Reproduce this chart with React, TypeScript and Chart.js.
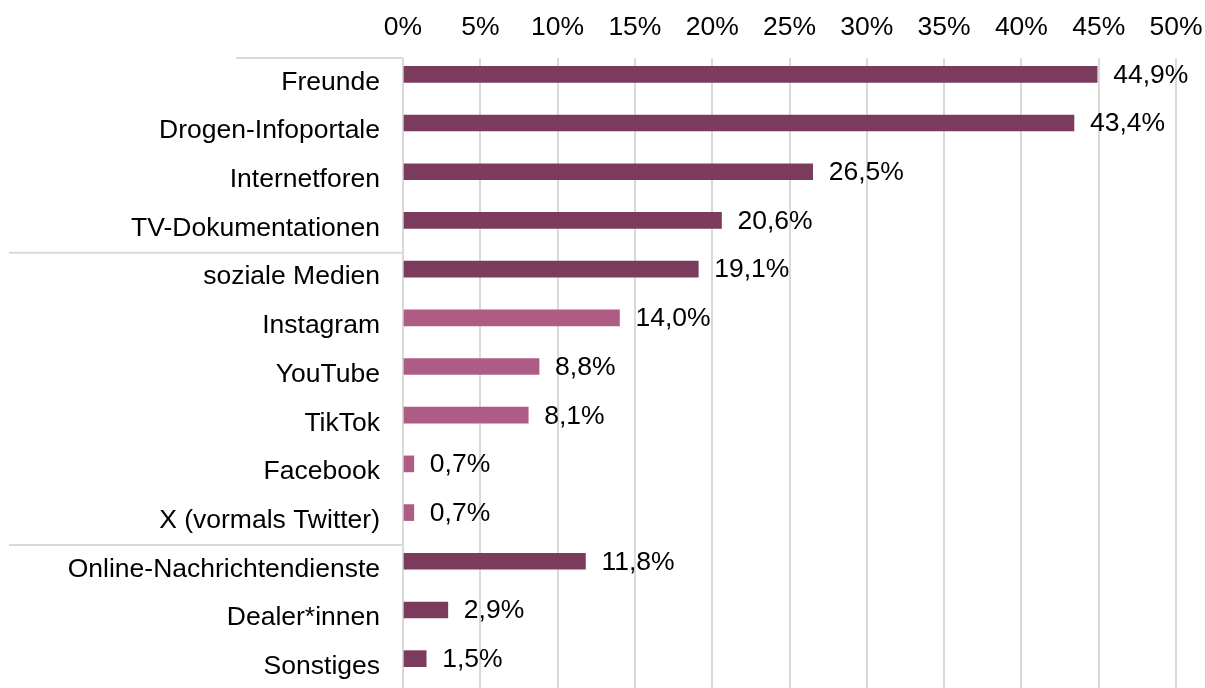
import React, { useEffect, useRef } from "react";
import { Chart, registerables } from "chart.js";

Chart.register(...registerables);

const categories = [
  "Freunde",
  "Drogen-Infoportale",
  "Internetforen",
  "TV-Dokumentationen",
  "soziale Medien",
  "Instagram",
  "YouTube",
  "TikTok",
  "Facebook",
  "X (vormals Twitter)",
  "Online-Nachrichtendienste",
  "Dealer*innen",
  "Sonstiges",
];

const shares = [44.9, 43.4, 26.5, 20.6, 19.1, 14.0, 8.8, 8.1, 0.7, 0.7, 11.8, 2.9, 1.5];

// true = platform (sub-item of "soziale Medien")
const isPlatform = [false, false, false, false, false, true, true, true, true, true, false, false, false];

const xTicks = [0, 5, 10, 15, 20, 25, 30, 35, 40, 45, 50];

// category indices where a new group begins (separator line above)
const groupStarts = [0, 4, 10];

const DARK = "#7a3b5c";
const PINK = "#ae5c85";
const GRID = "#d9d9d9";
const FONT = "'Liberation Sans', Arial, sans-serif";
const FONT_SIZE = 26.5;

const fmt = (v: number) => v.toFixed(1).replace(".", ",") + "%";

const valueLabels = {
  id: "valueLabels",
  afterDatasetsDraw(chart: any) {
    const ctx = chart.ctx;
    const meta = chart.getDatasetMeta(0);
    ctx.save();
    ctx.font = `${FONT_SIZE}px ${FONT}`;
    ctx.fillStyle = "#000";
    ctx.textAlign = "left";
    ctx.textBaseline = "middle";
    meta.data.forEach((bar: any, i: number) => {
      const v = shares[i];
      if (v == null) return;
      ctx.fillText(fmt(v), bar.x + 16, bar.y + 1);
    });
    ctx.restore();
  },
};

const groupLines = {
  id: "groupLines",
  afterDraw(chart: any) {
    const ctx = chart.ctx;
    const y = chart.scales.y;
    const area = chart.chartArea;
    ctx.save();
    ctx.strokeStyle = GRID;
    ctx.lineWidth = 2;
    groupStarts.forEach((idx) => {
      let py: number;
      if (idx === 0) {
        py = area.top;
      } else {
        py = (y.getPixelForValue(idx - 1) + y.getPixelForValue(idx)) / 2;
      }
      const startX = idx === 0 ? 236 : 9;
      ctx.beginPath();
      ctx.moveTo(startX, py);
      ctx.lineTo(area.left, py);
      ctx.stroke();
    });
    ctx.restore();
  },
};

export default function App() {
  const ref = useRef<HTMLCanvasElement | null>(null);

  useEffect(() => {
    if (!ref.current) return;
    const chart = new Chart(ref.current, {
      type: "bar",
      data: {
        labels: categories,
        datasets: [
          {
            label: "Anteil",
            data: shares,
            backgroundColor: isPlatform.map((p) => (p ? PINK : DARK)),
            barThickness: 16,
            borderWidth: 0,
          },
          {
            label: "",
            data: categories.map(() => null),
            barThickness: 16,
          },
        ],
      },
      options: {
        indexAxis: "y",
        animation: false,
        responsive: true,
        maintainAspectRatio: false,
        layout: { padding: { top: 0, right: 29, bottom: 1, left: 0 } },
        plugins: {
          legend: { display: false },
          tooltip: { enabled: false },
        },
        scales: {
          x: {
            position: "top",
            min: 0,
            max: 50,
            afterBuildTicks: (scale: any) => {
              scale.ticks = xTicks.map((v) => ({ value: v }));
            },
            afterFit: (scale: any) => {
              scale.height = 58;
              scale.paddingLeft = 0;
              scale.paddingRight = 0;
            },
            ticks: {
              callback: (v: any) => v + "%",
              font: { family: FONT, size: FONT_SIZE },
              color: "#000",
              padding: 14,
              maxRotation: 0,
              autoSkip: false,
            },
            grid: {
              color: GRID,
              lineWidth: 2,
              drawTicks: false,
            },
            border: { display: false },
          },
          y: {
            afterFit: (scale: any) => {
              scale.width = 403;
              scale.paddingTop = 0;
              scale.paddingBottom = 0;
            },
            ticks: {
              font: { family: FONT, size: FONT_SIZE },
              color: "#000",
              padding: 23,
              autoSkip: false,
            },
            grid: { display: false, drawTicks: false },
            border: { display: false },
          },
        },
      },
      plugins: [valueLabels, groupLines],
    } as any);
    return () => chart.destroy();
  }, []);

  return (
    <div
      style={{
        position: "fixed",
        left: 0,
        top: 0,
        width: 1205,
        height: 692,
        background: "#fff",
      }}
    >
      <canvas ref={ref} />
    </div>
  );
}
